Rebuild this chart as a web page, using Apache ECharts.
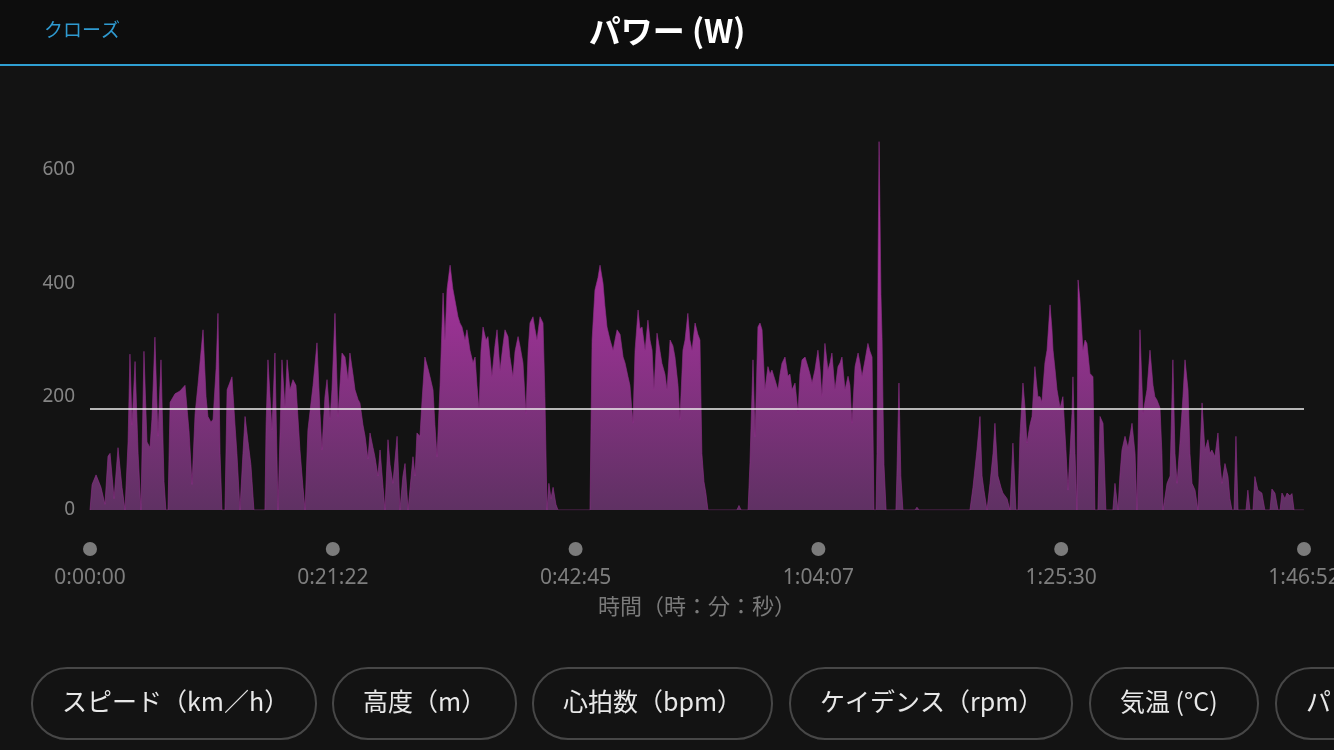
<!DOCTYPE html>
<html><head><meta charset="utf-8">
<script src="https://cdn.jsdelivr.net/npm/echarts@6/dist/echarts.min.js"></script>
<style>html,body{margin:0;padding:0;background:#131313;}#c{width:1334px;height:750px;}</style>
</head><body><div id="c"></div>
<script>
// elapsed time (s)
const timeSec = [0,11,32,58,79,95,106,127,148,169,185,201,211,222,238,254,269,285,301,317,327,343,359,375,391,401,412,423,449,475,502,523,539,555,570,597,613,623,639,650,666,676,687,697,713,724,750,766,776,792,808,819,835,850,866,924,
930,940,951,961,977,993,1014,1030,1041,1056,1072,1088,1109,1125,1136,1151,1178,1199,1215,1225,1241,1252,1268,1278,1294,1310,1331,1347,1363,1373,1389,1400,1416,1426,1442,1453,1468,1479,1495,1505,1521,1532,1548,1558,1574,1585,1600,1622,1637,1653,1664,1680,
1690,1706,1717,1727,1743,1754,1769,1785,1796,1812,1822,1833,1849,1865,1875,1886,1902,1917,1928,1944,1954,1965,1981,1991,2007,2023,2034,2044,2055,2065,2076,2092,2102,2113,2123,2139,2150,2166,2181,2192,2208,2218,2234,2245,2261,2271,2287,2303,2314,2324,2340,2350,2361,2377,2393,2403,2414,2424,2435,2446,2461,2472,
2641,2652,2667,2683,2694,2710,2720,2731,2747,2763,2773,2784,2800,2816,2826,2842,2852,2868,2879,2895,2905,2916,2932,2947,2958,2969,2979,2995,3011,3021,3037,3048,3064,3079,3090,3106,3116,3132,3143,3158,3169,3180,3196,3211,3222,3232,3243,3253,3264,3417,3428,3439,
3476,3486,3502,3513,3528,3539,3550,3565,3581,3592,3602,3618,3634,3645,3655,3671,3687,3697,3708,3724,3740,3750,3761,3777,3792,3803,3814,3829,3845,3856,3866,3882,3898,3909,3919,3935,3951,3962,3972,3988,4004,4014,4025,4041,4057,4067,4078,4094,4109,4120,4131,4141,4152,4157,4163,4168,4173,4178,4184,4189,4194,4205,4257,4262,4273,4283,4294,4358,4368,4379,
4648,4664,4685,4701,4712,4722,4738,4754,4770,4780,4796,4812,4822,4844,4859,4875,4891,4902,4912,4928,4939,4949,4965,4976,4991,5007,5018,5028,5044,5055,5071,5081,5087,5097,5108,5124,5139,5155,5166,5176,5187,5192,5203,5213,5219,5229,5245,5256,5266,5282,5298,5308,5324,5335,5351,5366,5403,5414,5430,5440,5451,5467,5483,5504,5520,5530,5546,5562,5583,5599,5615,5625,5636,5652,5662,5668,5689,5705,5720,5731,5742,5757,5773,5784,5800,5810,5821,5837,5852,5874,5889,5905,5916,5926,5942,5958,5969,5979,5995,6011,6021,6032,6043,6053,6064,6106,6116,6127,6143,6153,6169,6190,6206,6233,6243,6259,6275,6286,6296,6312,6323,6338,6349,6360,6412];
// power (W)
const powerW = [0,45,62,40,10,95,100,20,110,40,0,120,275,150,262,100,0,280,120,110,160,305,130,265,50,0,0,190,205,210,220,140,45,170,220,318,200,165,155,160,250,347,100,0,0,212,235,150,100,0,100,165,120,80,0,0,
150,265,200,141,277,0,265,180,265,212,230,220,106,40,0,141,220,295,170,106,200,230,160,212,347,165,277,270,230,277,240,212,195,189,150,130,90,136,110,94,60,106,40,0,124,80,47,130,0,60,82,0,
0,94,60,136,130,194,270,250,235,212,150,94,220,383,300,390,432,390,370,341,330,323,300,318,282,260,270,220,176,280,323,300,306,270,235,290,318,247,290,318,306,270,235,280,306,290,260,170,280,330,341,320,300,341,330,200,0,47,20,40,10,0,
0,300,388,410,432,400,360,323,300,282,300,318,310,270,260,235,220,153,282,353,320,323,282,335,300,282,212,312,280,259,240,212,300,290,270,220,159,282,300,347,300,282,330,310,300,100,50,30,0,0,8,0,
0,83,265,129,323,330,318,212,253,240,247,230,212,240,259,270,236,240,212,224,171,240,265,270,253,240,224,247,282,250,200,294,247,260,277,212,253,260,270,212,236,220,153,253,277,260,236,265,294,280,270,0,0,100,450,650,520,380,300,180,80,0,0,60,224,60,0,0,5,0,
0,40,106,165,60,35,0,47,100,153,60,40,30,20,0,118,0,0,130,224,180,118,150,165,253,200,200,190,260,282,362,320,282,250,212,180,200,106,35,100,170,235,100,0,406,371,282,300,294,241,235,0,0,165,153,0,0,47,0,60,106,130,110,153,100,0,318,170,212,282,220,200,194,180,100,0,47,60,265,100,47,118,200,265,212,100,47,35,0,189,106,124,100,106,94,136,80,47,82,59,20,0,0,130,0,0,35,0,0,59,35,30,0,0,37,30,0,0,30,20,30,25,29,0,0];
const avgPower = 178;
const yTicks = [0, 200, 400, 600];
const xTickSec = [0, 1282.5, 2565, 3847.5, 5130, 6412.5];
const xAxisTitle = '時間（時：分：秒）';
const chartTitle = 'パワー (W)';
const closeLabel = 'クローズ';
const buttonLabels = ['スピード（km／h）', '高度（m）', '心拍数（bpm）', 'ケイデンス（rpm）', '気温 (°C)', 'パワー (W)'];

const FONT = '"Noto Sans CJK JP", "Noto Sans", sans-serif';
const seriesData = timeSec.map((t, i) => [t, powerW[i]]);

function fmt(v) {
  const s = Math.floor(v + 1e-6);
  const h = Math.floor(s / 3600), m = Math.floor((s % 3600) / 60), ss = s % 60;
  return h + ':' + String(m).padStart(2, '0') + ':' + String(ss).padStart(2, '0');
}

// bottom buttons (decoration)
const btnBoxes = [[31, 284], [332, 183], [532, 239], [789, 282], [1089, 168], [1275, 200]];
const graphics = [
  { type: 'rect', left: 0, top: 0, shape: { width: 1334, height: 64 }, style: { fill: '#0d0d0d' }, z: 0 },
  { type: 'rect', left: 0, top: 64, shape: { width: 1334, height: 2 }, style: { fill: '#2f9fd3' }, z: 1 }
];
btnBoxes.forEach((b, i) => {
  graphics.push({ type: 'rect', left: b[0], top: 667, shape: { width: b[1], height: 71, r: 35 },
    style: { fill: 'transparent', stroke: '#474747', lineWidth: 2 } });
  graphics.push({ type: 'text', left: b[0] + 31, top: 689,
    style: { text: buttonLabels[i], fill: '#e8e8e8', font: '25px ' + FONT } });
});

const chart = echarts.init(document.getElementById('c'), null, { renderer: 'canvas' });
chart.setOption({
  backgroundColor: '#131313',
  animation: false,
  title: [
    { text: chartTitle, left: 'center', top: 10, textStyle: { color: '#ffffff', fontSize: 32, fontWeight: 'bold', fontFamily: FONT } },
    { text: closeLabel, left: 39, top: 15, textStyle: { color: '#2f9ad0', fontSize: 19, fontWeight: 'normal', fontFamily: FONT } }
  ],
  graphic: graphics,
  grid: { left: 90, right: 30, top: 113.3, height: 396.7, outerBoundsMode: 'none', containLabel: false },
  xAxis: {
    type: 'value', min: 0, max: 6412.5, interval: 1282.5,
    name: xAxisTitle, nameLocation: 'middle', nameGap: 85,
    nameTextStyle: { color: '#7a7a7a', fontSize: 22, fontFamily: FONT },
    axisLine: { show: false }, axisTick: { show: false }, splitLine: { show: false },
    axisLabel: {
      margin: 32,
      formatter: v => '{dot| }\n{t|' + fmt(v) + '}',
      rich: {
        dot: { width: 14, height: 14, borderRadius: 7, backgroundColor: '#7b7b7b', lineHeight: 14 },
        t: { color: '#7e7e7e', fontSize: 21, lineHeight: 44, fontFamily: '"Noto Sans", sans-serif' }
      }
    }
  },
  yAxis: {
    type: 'value', min: 0, max: 700, interval: 100,
    axisLine: { show: false }, axisTick: { show: false }, splitLine: { show: false },
    axisLabel: { margin: 15, color: '#858585', fontSize: 19, fontFamily: '"Noto Sans", sans-serif',
      formatter: v => yTicks.indexOf(v) >= 0 ? String(v) : '' }
  },
  series: [{
    type: 'line', data: seriesData, showSymbol: false, symbol: 'none',
    lineStyle: { width: 0.6, color: '#8e2f8a' },
    areaStyle: { opacity: 1, color: new echarts.graphic.LinearGradient(0, 0, 0, 1, [
      { offset: 0, color: '#b8329f' }, { offset: 0.4, color: '#a2329a' }, { offset: 1, color: '#5f3163' }
    ]) },
    markLine: {
      silent: true, symbol: 'none', label: { show: false },
      lineStyle: { color: '#eeeeee', width: 1.5, type: 'solid' },
      data: [{ yAxis: avgPower }]
    }
  }]
});
</script></body></html>
